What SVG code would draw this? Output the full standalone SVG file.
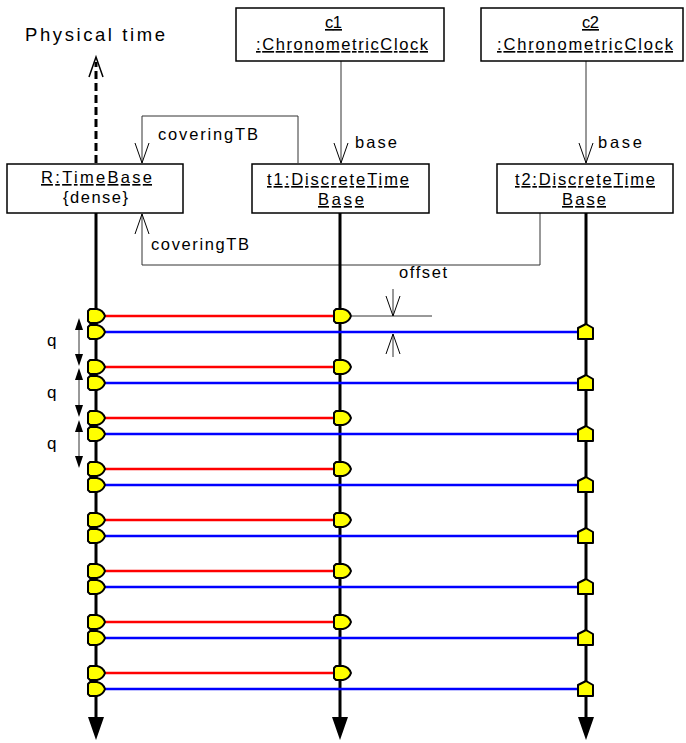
<svg xmlns="http://www.w3.org/2000/svg" width="686" height="743" viewBox="0 0 686 743">
<defs>
<style>
text{font-family:"Liberation Sans",Arial,sans-serif;fill:#000}
.t{font-size:16.5px}
.u{text-decoration:underline}
.box{fill:#fff;stroke:#000;stroke-width:1.5}
.thin{fill:none;stroke:#333;stroke-width:1}
.life{stroke:#000;stroke-width:3;fill:none}
.red{stroke:#ff0000;stroke-width:2.5}
.blue{stroke:#0000ff;stroke-width:2.5}
.mk{fill:#ffff00;stroke:#000;stroke-width:2;stroke-linejoin:round}
</style>
<marker id="open" viewBox="0 0 22 16" refX="21" refY="8" markerWidth="22" markerHeight="16" markerUnits="userSpaceOnUse" orient="auto">
<path d="M1,1 L21,8 L1,15" fill="none" stroke="#000" stroke-width="1"/>
</marker>
<path id="rm" d="M-8,-5 L-6,-7 H1 Q7,-6 9,0 Q7,6 1,7 H-6 L-8,5 Z"/>
<path id="um" d="M-8,-4 L0,-8 L7,-4 L7,7 L-8,7 Z"/>
</defs>

<text x="25" y="41" style="font-size:18.5px" textLength="140" lengthAdjust="spacing">Physical time</text>

<g id="connectors">
<line x1="96" y1="163" x2="96" y2="62" stroke="#000" stroke-width="3" stroke-dasharray="8,4"/>
<path d="M89,77 L96,57 L103,77" fill="none" stroke="#000" stroke-width="1.5"/>
<polyline class="thin" points="298,163 298,116 142,116 142,163" marker-end="url(#open)"/>
<polyline class="thin" points="540,213 540,265 142,265 142,214" marker-end="url(#open)"/>
<line class="thin" x1="341" y1="61" x2="341" y2="163" marker-end="url(#open)"/>
<line class="thin" x1="586" y1="61" x2="586" y2="163" marker-end="url(#open)"/>
<text class="t" x="158" y="140" textLength="100" lengthAdjust="spacing">coveringTB</text>
<text class="t" x="151" y="250" textLength="98" lengthAdjust="spacing">coveringTB</text>
<text class="t" x="355" y="148" textLength="42" lengthAdjust="spacing">base</text>
<text class="t" x="598" y="148" textLength="44" lengthAdjust="spacing">base</text>
<line class="life" x1="96" y1="213" x2="96" y2="720"/>
<line class="life" x1="340" y1="213" x2="340" y2="720"/>
<line class="life" x1="586" y1="213" x2="586" y2="720"/>
<polygon points="88,717 104,717 96,740" fill="#000"/>
<polygon points="332,717 348,717 340,740" fill="#000"/>
<polygon points="578,717 594,717 586,740" fill="#000"/>
<line class="thin" x1="352" y1="316" x2="432" y2="316"/>
<line class="thin" x1="393" y1="289" x2="393" y2="316" marker-end="url(#open)"/>
<line class="thin" x1="393" y1="357" x2="393" y2="334" marker-end="url(#open)"/>
<text class="t" x="399" y="278" textLength="48" lengthAdjust="spacing">offset</text>
<g stroke="#333" stroke-width="1" fill="#000">
<line x1="79" y1="326" x2="79" y2="358"/>
<polygon points="75,330 83,330 79,318" stroke="none"/>
<polygon points="75,354 83,354 79,366" stroke="none"/>
<line x1="79" y1="376" x2="79" y2="409"/>
<polygon points="75,380 83,380 79,368" stroke="none"/>
<polygon points="75,405 83,405 79,417" stroke="none"/>
<line x1="79" y1="428" x2="79" y2="460"/>
<polygon points="75,432 83,432 79,420" stroke="none"/>
<polygon points="75,456 83,456 79,468" stroke="none"/>
</g>
<text x="47" y="346" style="font-size:17px">q</text>
<text x="47" y="398" style="font-size:17px">q</text>
<text x="47" y="449" style="font-size:17px">q</text>

<g id="rows">
<line class="red" x1="104" y1="316" x2="334" y2="316"/><line class="blue" x1="104" y1="332" x2="578" y2="332"/>
<line class="red" x1="104" y1="367" x2="334" y2="367"/><line class="blue" x1="104" y1="383" x2="578" y2="383"/>
<line class="red" x1="104" y1="418" x2="334" y2="418"/><line class="blue" x1="104" y1="434" x2="578" y2="434"/>
<line class="red" x1="104" y1="469" x2="334" y2="469"/><line class="blue" x1="104" y1="485" x2="578" y2="485"/>
<line class="red" x1="104" y1="520" x2="334" y2="520"/><line class="blue" x1="104" y1="536" x2="578" y2="536"/>
<line class="red" x1="104" y1="571" x2="334" y2="571"/><line class="blue" x1="104" y1="587" x2="578" y2="587"/>
<line class="red" x1="104" y1="622" x2="334" y2="622"/><line class="blue" x1="104" y1="638" x2="578" y2="638"/>
<line class="red" x1="104" y1="673" x2="334" y2="673"/><line class="blue" x1="104" y1="689" x2="578" y2="689"/>
</g>
<g id="markers">
<use href="#rm" class="mk" x="96" y="316"/><use href="#rm" class="mk" x="96" y="332"/>
<use href="#rm" class="mk" x="96" y="367"/><use href="#rm" class="mk" x="96" y="383"/>
<use href="#rm" class="mk" x="96" y="418"/><use href="#rm" class="mk" x="96" y="434"/>
<use href="#rm" class="mk" x="96" y="469"/><use href="#rm" class="mk" x="96" y="485"/>
<use href="#rm" class="mk" x="96" y="520"/><use href="#rm" class="mk" x="96" y="536"/>
<use href="#rm" class="mk" x="96" y="571"/><use href="#rm" class="mk" x="96" y="587"/>
<use href="#rm" class="mk" x="96" y="622"/><use href="#rm" class="mk" x="96" y="638"/>
<use href="#rm" class="mk" x="96" y="673"/><use href="#rm" class="mk" x="96" y="689"/>
<use href="#rm" class="mk" x="342" y="316"/><use href="#rm" class="mk" x="342" y="367"/>
<use href="#rm" class="mk" x="342" y="418"/><use href="#rm" class="mk" x="342" y="469"/>
<use href="#rm" class="mk" x="342" y="520"/><use href="#rm" class="mk" x="342" y="571"/>
<use href="#rm" class="mk" x="342" y="622"/><use href="#rm" class="mk" x="342" y="673"/>
<use href="#um" class="mk" x="586" y="332"/><use href="#um" class="mk" x="586" y="383"/>
<use href="#um" class="mk" x="586" y="434"/><use href="#um" class="mk" x="586" y="485"/>
<use href="#um" class="mk" x="586" y="536"/><use href="#um" class="mk" x="586" y="587"/>
<use href="#um" class="mk" x="586" y="638"/><use href="#um" class="mk" x="586" y="689"/>
</g>
</g>

<g id="c1">
<rect class="box" x="236" y="8" width="208" height="53"/>
<text class="t u" x="325" y="28" textLength="17" lengthAdjust="spacing">c1</text>
<text class="t u" x="256" y="50" textLength="172" lengthAdjust="spacing">:ChronometricClock</text>
</g>
<g id="c2">
<rect class="box" x="481" y="8" width="202" height="53"/>
<text class="t u" x="582" y="28" textLength="17" lengthAdjust="spacing">c2</text>
<text class="t u" x="497" y="50" textLength="176" lengthAdjust="spacing">:ChronometricClock</text>
</g>
<g id="R">
<rect class="box" x="7" y="164" width="176" height="49"/>
<text class="t u" x="41" y="183" textLength="111" lengthAdjust="spacing">R:TimeBase</text>
<text class="t" x="63" y="203" textLength="65" lengthAdjust="spacing">{dense}</text>
</g>
<g id="t1">
<rect class="box" x="252" y="164" width="177" height="49"/>
<text class="t u" x="267" y="185" textLength="142" lengthAdjust="spacing">t1:DiscreteTime</text>
<text class="t u" x="318" y="205" textLength="46" lengthAdjust="spacing">Base</text>
</g>
<g id="t2">
<rect class="box" x="497" y="164" width="176" height="49"/>
<text class="t u" x="515" y="185" textLength="140" lengthAdjust="spacing">t2:DiscreteTime</text>
<text class="t u" x="562" y="205" textLength="44" lengthAdjust="spacing">Base</text>
</g>
</svg>
